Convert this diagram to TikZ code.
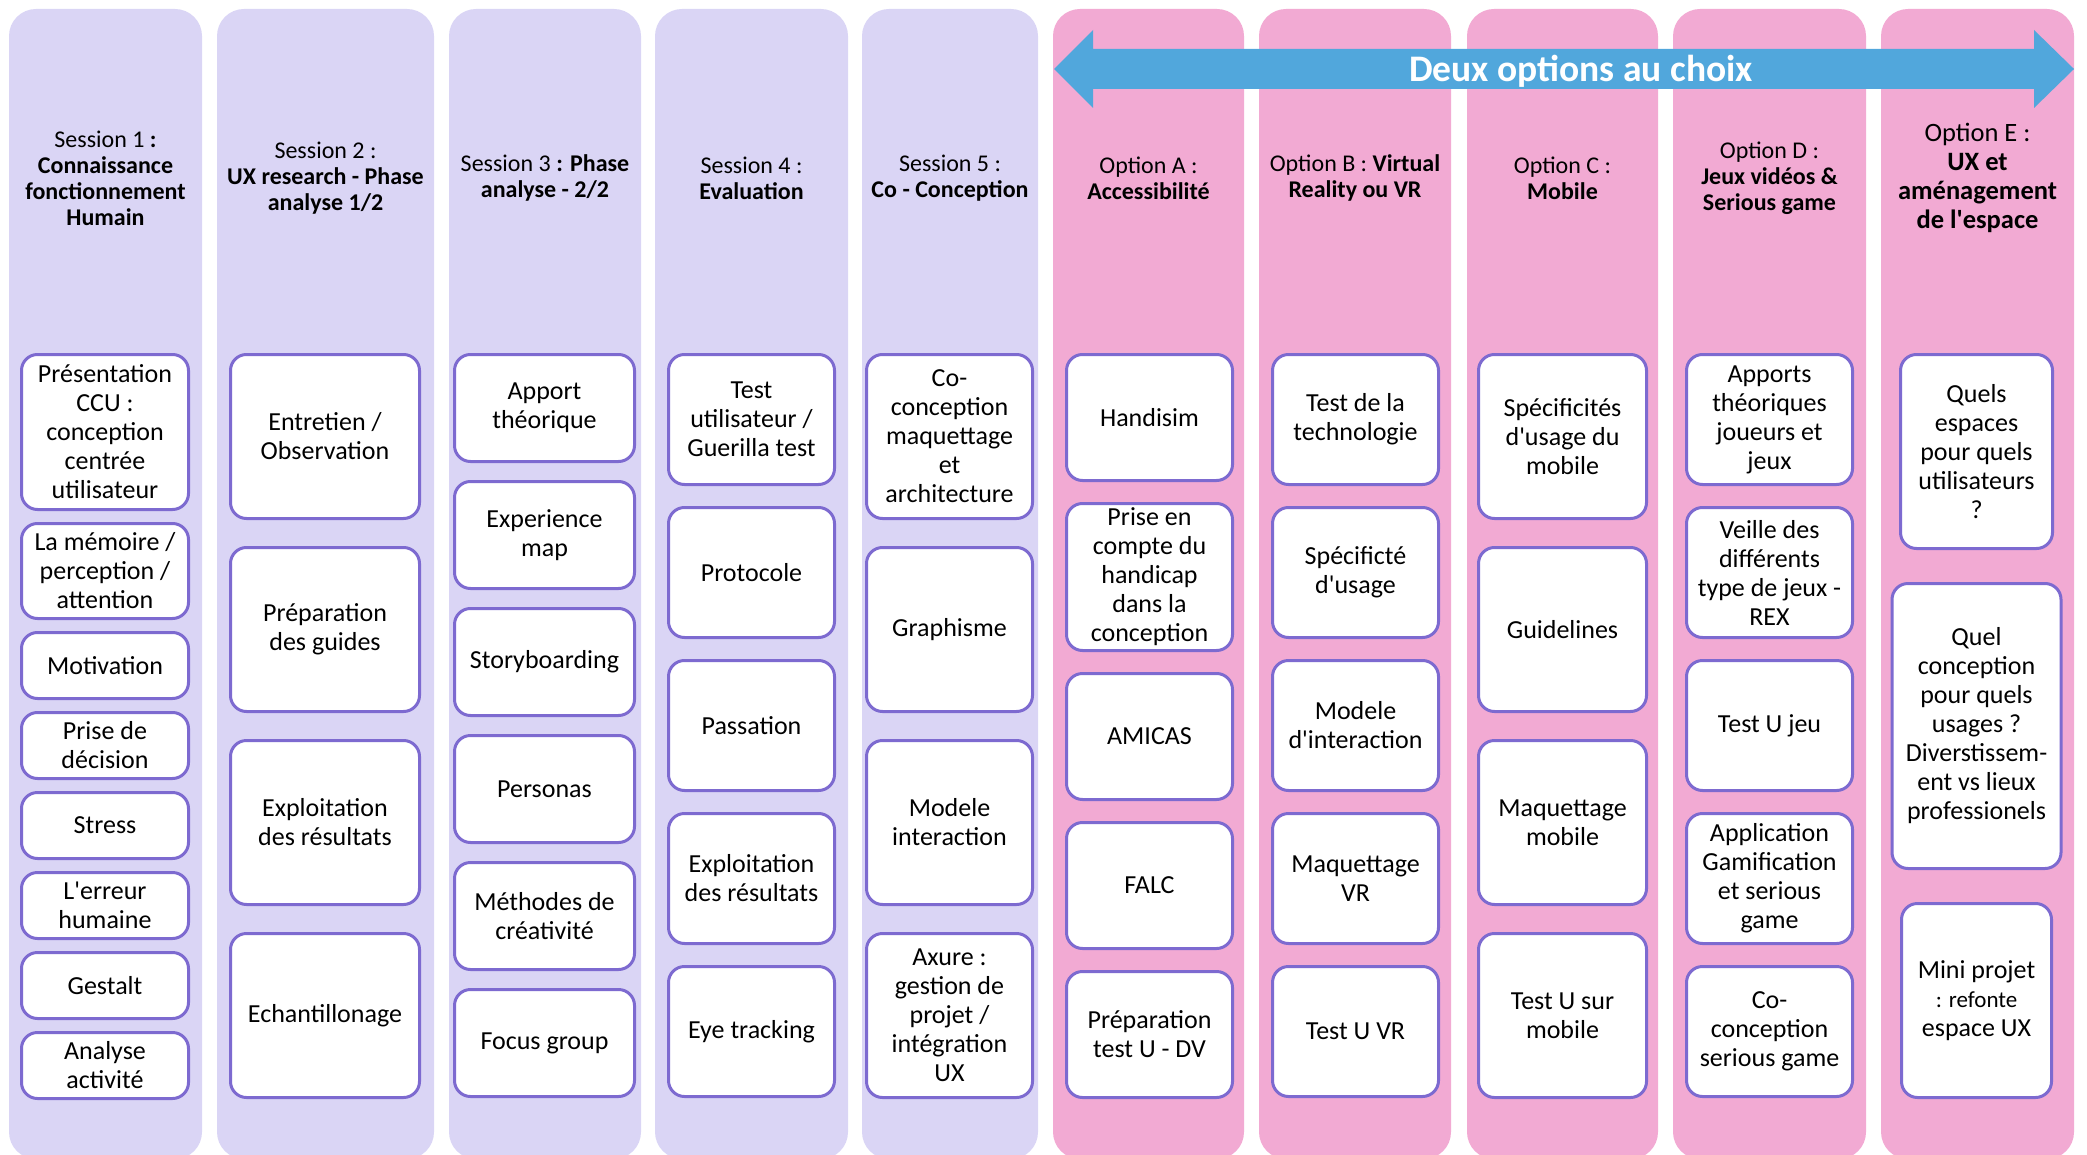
\documentclass[tikz,border=0pt]{standalone}
\usepackage{fontspec}
\setmainfont{Carlito}[Ligatures=TeXOff]
\usetikzlibrary{positioning}
\definecolor{sessionbg}{RGB}{218,213,245}
\definecolor{optionbg}{RGB}{242,170,211}
\definecolor{arrowblue}{RGB}{81,167,220}
\definecolor{boxline}{RGB}{125,106,208}

\begin{document}
\begin{tikzpicture}[x=1pt, y=-1pt]
    \tikzstyle{column}=[rounded corners=27pt, inner sep=0pt, minimum height=1150pt]
    \tikzstyle{session}=[column, fill=sessionbg]
    \tikzstyle{option}=[column, fill=optionbg]
    \tikzstyle{title}=[align=center, font=\fontsize{24}{26}\selectfont]
    \tikzstyle{topic}=[draw=boxline, line width=3pt, fill=white, rounded corners=16pt, inner sep=0pt, outer sep=0pt, align=center, font=\fontsize{26}{29}\selectfont]

    \useasboundingbox (0,0) rectangle (2087,1155);

    % columns
    \node[session, minimum width=193pt] (c1) at (105.5,584) {};
    \node[session, minimum width=217pt] (c2) at (325.5,584) {};
    \node[session, minimum width=192pt] (c3) at (545,584)   {};
    \node[session, minimum width=193pt] (c4) at (751.5,584) {};
    \node[session, minimum width=176pt] (c5) at (950,584)   {};
    \node[option,  minimum width=191pt] (cA) at (1148.5,584) {};
    \node[option,  minimum width=192pt] (cB) at (1355,584)   {};
    \node[option,  minimum width=191pt] (cC) at (1562.5,584) {};
    \node[option,  minimum width=193pt] (cD) at (1769.5,584) {};
    \node[option,  minimum width=193pt] (cE) at (1977.5,584) {};

    % both options arrow
    \fill[arrowblue] (1054,69) -- (1093,30) -- (1093,49) -- (2034,49) -- (2034,30) -- (2074,69)
        -- (2034,108) -- (2034,89) -- (1093,89) -- (1093,108) -- cycle;
    \begin{scope}
      \clip (1093,49) rectangle (2034,89);
      \node[anchor=base, text=white, font=\fontsize{37.5}{40}\selectfont\bfseries] (choice) at (1581,82) {Deux options au choix};
    \end{scope}

    % headers
    \node[title] (h1) at (105.5,178) {Session 1 \textbf{:}\\\textbf{Connaissance}\\\textbf{fonctionnement}\\\textbf{Humain}};
    \node[title] (h2) at (325.5,178) {Session 2 :\\\textbf{UX research - Phase}\\\textbf{analyse 1/2}};
    \node[title] (h3) at (545,178)   {Session 3 \textbf{: Phase}\\\textbf{analyse - 2/2}};
    \node[title] (h4) at (751.5,178) {Session 4 :\\\textbf{Evaluation}};
    \node[title] (h5) at (950,178)   {Session 5 :\\\textbf{Co - Conception}};
    \node[title] (hA) at (1148.5,178) {Option A :\\\textbf{Accessibilité}};
    \node[title] (hB) at (1355,178)   {Option B : \textbf{Virtual}\\\textbf{Reality ou VR}};
    \node[title] (hC) at (1562.5,178) {Option C :\\\textbf{Mobile}};
    \node[title] (hD) at (1769.5,178) {Option D :\\\textbf{Jeux vidéos \&}\\\textbf{Serious game}};
    \node[title, font=\fontsize{26.5}{29}\selectfont] (hE) at (1977.5,178) {Option E :\\\textbf{UX et}\\\textbf{aménagement}\\\textbf{de l'espace}};

    % session 1
    \node[topic, minimum width=167pt, minimum height=155pt, anchor=north] (1_1) at (105,354.5) {Présentation\\CCU :\\conception\\centrée\\utilisateur};
    \node[topic, minimum width=167pt, minimum height=95pt, below=14pt of 1_1] (1_2) {La mémoire /\\perception /\\attention};
    \node[topic, minimum width=167pt, minimum height=66pt, below=14pt of 1_2] (1_3) {Motivation};
    \node[topic, minimum width=167pt, minimum height=66pt, below=14pt of 1_3] (1_4) {Prise de\\décision};
    \node[topic, minimum width=167pt, minimum height=66pt, below=14pt of 1_4] (1_5) {Stress};
    \node[topic, minimum width=167pt, minimum height=66pt, below=14pt of 1_5] (1_6) {L'erreur\\humaine};
    \node[topic, minimum width=167pt, minimum height=66pt, below=14pt of 1_6] (1_7) {Gestalt};
    \node[topic, minimum width=167pt, minimum height=66pt, below=14pt of 1_7] (1_8) {Analyse\\activité};

    % session 2
    \node[topic, minimum width=189pt, minimum height=164pt, anchor=north] (2_1) at (325,354.5) {Entretien /\\Observation};
    \node[topic, minimum width=189pt, minimum height=164pt, below=29pt of 2_1] (2_2) {Préparation\\des guides};
    \node[topic, minimum width=189pt, minimum height=164pt, below=29pt of 2_2] (2_3) {Exploitation\\des résultats};
    \node[topic, minimum width=189pt, minimum height=164pt, below=29pt of 2_3] (2_4) {Echantillonage};

    % session 3
    \node[topic, minimum width=180pt, minimum height=107pt, anchor=north] (3_1) at (544.5,354.5) {Apport\\théorique};
    \node[topic, minimum width=180pt, minimum height=107pt, below=20pt of 3_1] (3_2) {Experience\\map};
    \node[topic, minimum width=180pt, minimum height=107pt, below=20pt of 3_2] (3_3) {Storyboarding};
    \node[topic, minimum width=180pt, minimum height=107pt, below=20pt of 3_3] (3_4) {Personas};
    \node[topic, minimum width=180pt, minimum height=107pt, below=20pt of 3_4] (3_5) {Méthodes de\\créativité};
    \node[topic, minimum width=180pt, minimum height=107pt, below=20pt of 3_5] (3_6) {Focus group};

    % session 4
    \node[topic, minimum width=166pt, minimum height=130pt, anchor=north] (4_1) at (751.5,354.5) {Test\\utilisateur /\\Guerilla test};
    \node[topic, minimum width=166pt, minimum height=130pt, below=23pt of 4_1] (4_2) {Protocole};
    \node[topic, minimum width=166pt, minimum height=130pt, below=23pt of 4_2] (4_3) {Passation};
    \node[topic, minimum width=166pt, minimum height=130pt, below=23pt of 4_3] (4_4) {Exploitation\\des résultats};
    \node[topic, minimum width=166pt, minimum height=130pt, below=23pt of 4_4] (4_5) {Eye tracking};

    % session 5
    \node[topic, minimum width=166pt, minimum height=164pt, anchor=north] (5_1) at (949.5,354.5) {Co-\\conception\\maquettage\\et\\architecture};
    \node[topic, minimum width=166pt, minimum height=164pt, below=29pt of 5_1] (5_2) {Graphisme};
    \node[topic, minimum width=166pt, minimum height=164pt, below=29pt of 5_2] (5_3) {Modele\\interaction};
    \node[topic, minimum width=166pt, minimum height=164pt, below=29pt of 5_3] (5_4) {Axure :\\gestion de\\projet /\\intégration\\UX};

    % option A
    \node[topic, minimum width=166pt, minimum height=126pt, anchor=north] (A_1) at (1149.5,354.5) {Handisim};
    \node[topic, minimum width=166pt, minimum height=147pt, below=23pt of A_1] (A_2) {Prise en\\compte du\\handicap\\dans la\\conception};
    \node[topic, minimum width=166pt, minimum height=126pt, below=23pt of A_2] (A_3) {AMICAS};
    \node[topic, minimum width=166pt, minimum height=126pt, below=23pt of A_3] (A_4) {FALC};
    \node[topic, minimum width=166pt, minimum height=126pt, below=23pt of A_4] (A_5) {Préparation\\test U - DV};

    % option B
    \node[topic, minimum width=166pt, minimum height=130pt, anchor=north] (B_1) at (1355.5,354.5) {Test de la\\technologie};
    \node[topic, minimum width=166pt, minimum height=130pt, below=23pt of B_1] (B_2) {Spécificté\\d'usage};
    \node[topic, minimum width=166pt, minimum height=130pt, below=23pt of B_2] (B_3) {Modele\\d'interaction};
    \node[topic, minimum width=166pt, minimum height=130pt, below=23pt of B_3] (B_4) {Maquettage\\VR};
    \node[topic, minimum width=166pt, minimum height=130pt, below=23pt of B_4] (B_5) {Test U VR};

    % option C
    \node[topic, minimum width=168pt, minimum height=164pt, anchor=north] (C_1) at (1562.5,354.5) {Spécificités\\d'usage du\\mobile};
    \node[topic, minimum width=168pt, minimum height=164pt, below=29pt of C_1] (C_2) {Guidelines};
    \node[topic, minimum width=168pt, minimum height=164pt, below=29pt of C_2] (C_3) {Maquettage\\mobile};
    \node[topic, minimum width=168pt, minimum height=164pt, below=29pt of C_3] (C_4) {Test U sur\\mobile};

    % option D
    \node[topic, minimum width=166pt, minimum height=130pt, anchor=north] (D_1) at (1769.5,354.5) {Apports\\théoriques\\joueurs et\\jeux};
    \node[topic, minimum width=166pt, minimum height=130pt, below=23pt of D_1] (D_2) {Veille des\\différents\\type de jeux -\\REX};
    \node[topic, minimum width=166pt, minimum height=130pt, below=23pt of D_2] (D_3) {Test U jeu};
    \node[topic, minimum width=166pt, minimum height=130pt, below=23pt of D_3] (D_4) {Application\\Gamification\\et serious\\game};
    \node[topic, minimum width=166pt, minimum height=130pt, below=23pt of D_4] (D_5) {Co-\\conception\\serious game};

    % option E
    \node[topic, minimum width=152pt, minimum height=194pt, anchor=north] (E_1) at (1976.5,354.5) {Quels\\espaces\\pour quels\\utilisateurs\\?};
    \node[topic, minimum width=169pt, minimum height=285pt, below=35pt of E_1] (E_2) {Quel\\conception\\pour quels\\usages ?\\Diverstissem-\\ent vs lieux\\professionels};
    \node[topic, minimum width=150pt, minimum height=194pt, below=35pt of E_2] (E_3) {Mini projet\\{\fontsize{23}{27}\selectfont : refonte}\\espace UX};
\end{tikzpicture}
\end{document}
